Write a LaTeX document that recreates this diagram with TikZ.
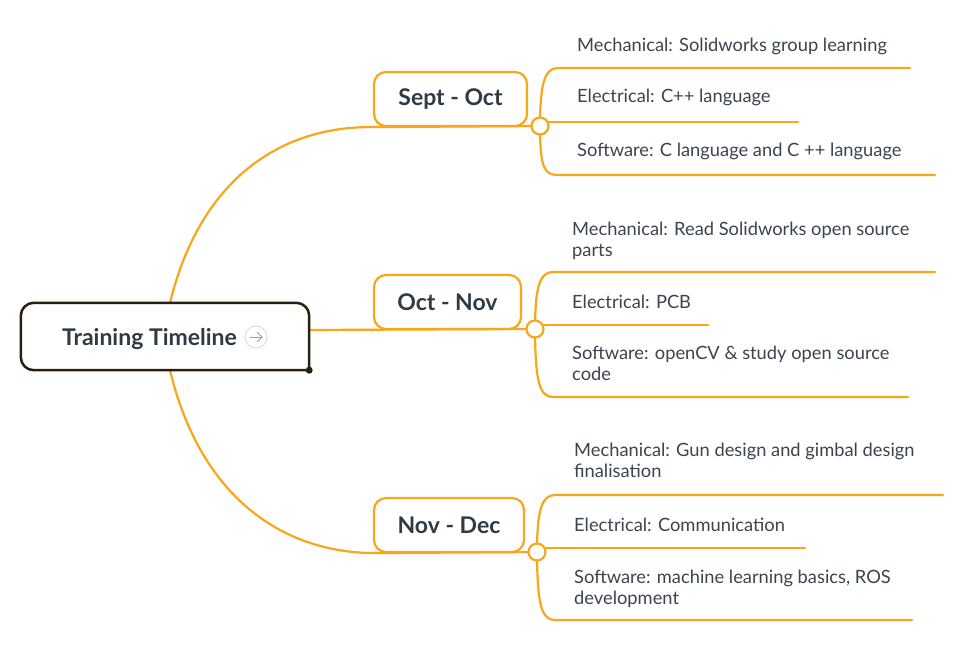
\documentclass[tikz,border=0pt]{standalone}
\usepackage{fontspec}
\setmainfont{Lato}
\definecolor{orng}{HTML}{FAA61A}
\definecolor{txt}{HTML}{3A4550}
\definecolor{ttl}{HTML}{2E3A44}
\definecolor{rootc}{HTML}{2B1E0E}
\begin{document}
\begin{tikzpicture}[x=1pt,y=-1pt,
  conn/.style={draw=orng, line width=2.2pt, line cap=round},
  period/.style={draw=orng, line width=2.2pt, rounded corners=12pt, fill=white, minimum height=54pt, inner sep=0pt, font=\fontsize{23}{27}\selectfont\bfseries, text=ttl},
  hub/.style={circle, draw=orng, line width=2.2pt, fill=white, minimum size=17pt, inner sep=0pt},
  item/.style={anchor=base west, inner sep=0pt, align=left, font=\fontsize{18.3}{21}\selectfont, text=txt}]

\useasboundingbox (0,0) rectangle (969,650);
\fill[white] (0,0) rectangle (969,650);

% root
\node[minimum width=288pt, minimum height=67pt, inner sep=0pt] (root) at (165,336.5) {};
\node[font=\fontsize{23}{27}\selectfont\bfseries, text=ttl, anchor=base, inner sep=0pt] (rootlabel) at (149.5,345.5) {Training Timeline};
\node[circle, draw=gray!30, line width=0.8pt, minimum size=22pt, inner sep=0pt] (icon) at (256,337) {};
\draw[gray!75, line width=1pt, line cap=round, line join=round] ([xshift=-6pt]icon.center) -- ([xshift=6pt]icon.center);
\draw[gray!75, line width=1pt, line cap=round, line join=round] ([xshift=1.5pt,yshift=4.5pt]icon.center) -- ([xshift=6pt]icon.center) -- ([xshift=1.5pt,yshift=-4.5pt]icon.center);

% period nodes (positions)
\node[period, minimum width=153pt, draw=none, fill=none, text=white] (p1) at (450.5,99) {};
\node[period, minimum width=147pt, draw=none, fill=none] (p2) at (447.5,302) {};
\node[period, minimum width=150pt, draw=none, fill=none] (p3) at (449,525) {};

% hubs positions
\coordinate (c1) at (540,126);
\coordinate (c2) at (535,329);
\coordinate (c3) at (537,552);

% main connectors
\draw[conn] ([xshift=5pt]root.north) .. controls (200,180) and (280,126) .. (p1.south west) -- (c1);
\draw[conn] ([yshift=6.5pt]root.east) -- (c2 -| p2.east) -- (c2);
\draw[conn] ([xshift=5pt]root.south) .. controls (200,495) and (280,552) .. (p3.south west) -- (c3);

% root box outline
\draw[draw=rootc, line width=2.5pt, rounded corners=13pt, line cap=rect] (root.south east) -- (root.north east) -- (root.north west) -- (root.south west) -- (root.south east);
\fill[rootc] (root.south east) circle (3.5pt);

% visible period boxes
\node[period, minimum width=153pt] (sept) at (p1) {Sept - Oct};
\node[period, minimum width=147pt] (oct) at (p2) {Oct - Nov};
\node[period, minimum width=150pt] (nov) at (p3) {Nov - Dec};

% branch ends
\coordinate (e1a) at (910,68);
\coordinate (e1b) at (798,121.75);
\coordinate (e1c) at (935,175);
\coordinate (e2a) at (935,272);
\coordinate (e2b) at (708,324.75);
\coordinate (e2c) at (908,397);
\coordinate (e3a) at (943,495);
\coordinate (e3b) at (805,547.75);
\coordinate (e3c) at (912,620);

% branches Sept
\draw[conn] (540,117.5) .. controls (541,85) and (544,68) .. (558,68) -- (e1a);
\draw[conn] (540,134.5) .. controls (541,167) and (544,175) .. (558,175) -- (e1c);
\draw[conn] (547.4,121.75) -- (e1b);
% branches Oct
\draw[conn] (535,320.5) .. controls (536,289) and (539,272) .. (553,272) -- (e2a);
\draw[conn] (535,337.5) .. controls (536,380) and (539,397) .. (553,397) -- (e2c);
\draw[conn] (542.4,324.75) -- (e2b);
% branches Nov
\draw[conn] (537,543.5) .. controls (538,512) and (541,495) .. (555,495) -- (e3a);
\draw[conn] (537,560.5) .. controls (538,603) and (541,620) .. (555,620) -- (e3c);
\draw[conn] (544.4,547.75) -- (e3b);

% hubs
\node[hub] (h1) at (c1) {};
\node[hub] (h2) at (c2) {};
\node[hub] (h3) at (c3) {};

% items
\node[item] (s1m) at (577,52) {Mechanical: Solidworks group learning};
\node[item] (s1e) at (577,103) {Electrical: C++ language};
\node[item] (s1s) at (577,157) {Software: C language and C ++ language};

\node[item] (s2m) at (572,256) {Mechanical: Read Solidworks open source\\parts};
\node[item] (s2e) at (572,308) {Electrical: PCB};
\node[item] (s2s) at (572,380) {Software: openCV \& study open source\\code};

\node[item] (s3m) at (574,477) {Mechanical: Gun design and gimbal design\\finalisation};
\node[item] (s3e) at (574,531) {Electrical: Communication};
\node[item] (s3s) at (574,604) {Software: machine learning basics, ROS\\development};
\end{tikzpicture}
\end{document}
